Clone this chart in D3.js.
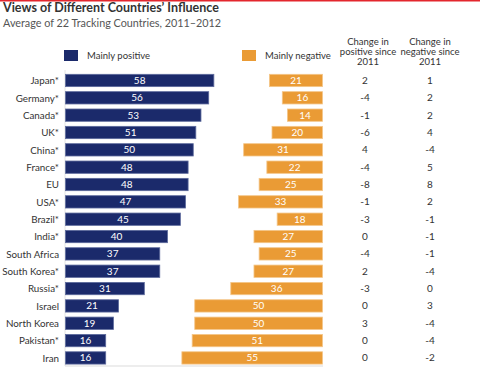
<!DOCTYPE html>
<html>
<head>
<meta charset="utf-8">
<script src="https://cdn.jsdelivr.net/npm/d3@7"></script>
<style>
  body { margin: 0; background: #fff; }
  svg { display: block; font-family: Lato, "Open Sans", sans-serif; }
</style>
</head>
<body>
<svg class="chart" width="480" height="372"></svg>
<script>
var countries = ['Japan*', 'Germany*', 'Canada*', 'UK*', 'China*', 'France*', 'EU', 'USA*', 'Brazil*',
  'India*', 'South Africa', 'South Korea*', 'Russia*', 'Israel', 'North Korea', 'Pakistan*', 'Iran'];
var positive = [58, 56, 53, 51, 50, 48, 48, 47, 45, 40, 37, 37, 31, 21, 19, 16, 16];
var negative = [21, 16, 14, 20, 31, 22, 25, 33, 18, 27, 25, 27, 36, 50, 50, 51, 55];
var changePos = [2, -4, -1, -6, 4, -4, -8, -1, -3, 0, -4, 2, -3, 0, 3, 0, 0];
var changeNeg = [1, 2, 2, 4, -4, 5, 8, 2, -1, -1, -1, -4, 0, 3, -4, -4, -2];

var navy = '#1b2a6b', orange = '#ea9b35';

var svg = d3.select('.chart');

// red rule at the very top
svg.append('rect').attr('x', 0).attr('y', 0).attr('width', 480).attr('height', 1.5).attr('fill', '#e3262d');

svg.append('text').attr('x', 3).attr('y', 12)
  .attr('font-size', 12.5).attr('font-weight', 'bold').attr('fill', '#333')
  .text('Views of Different Countries\u2019 Influence');
svg.append('text').attr('x', 3).attr('y', 27)
  .attr('font-size', 10.8).attr('fill', '#555')
  .text('Average of 22 Tracking Countries, 2011\u20132012');

// scales
var xPos = d3.scaleLinear().domain([0, 60]).range([65, 65 + 60 * 2.575]);
var xNeg = d3.scaleLinear().domain([0, 60]).range([323, 323 - 60 * 2.575]);
var y = d3.scaleBand().domain(countries).range([71.8, 366.6]).paddingInner(0.29).paddingOuter(0.145);

// legend
var legend = [
  {label: 'Mainly positive', color: navy, x: 64},
  {label: 'Mainly negative', color: orange, x: 242}
];
var lg = svg.selectAll('g.legend').data(legend).enter().append('g').attr('class', 'legend');
lg.append('rect').attr('x', function(d) { return d.x; }).attr('y', 50)
  .attr('width', 14).attr('height', 11).attr('fill', function(d) { return d.color; });
lg.append('text').attr('x', function(d) { return d.x + 23; }).attr('y', 59)
  .attr('font-size', 9.5).attr('fill', '#333').text(function(d) { return d.label; });

// column headers
var headers = [
  {x: 368, lines: ['Change in', 'positive since', '2011']},
  {x: 430, lines: ['Change in', 'negative since', '2011']}
];
headers.forEach(function(h) {
  var t = svg.append('text').attr('text-anchor', 'middle').attr('font-size', 9.5).attr('fill', '#333');
  h.lines.forEach(function(l, i) {
    t.append('tspan').attr('x', h.x).attr('y', 45 + i * 10).text(l);
  });
});

// axis lines
svg.append('line').attr('x1', 65).attr('x2', 65).attr('y1', 70).attr('y2', 366)
  .attr('stroke', '#e4e4e4').attr('stroke-width', 1);
svg.append('line').attr('x1', 65).attr('x2', 323).attr('y1', 366).attr('y2', 366)
  .attr('stroke', '#dcdcdc').attr('stroke-width', 1.2);

var rows = svg.selectAll('g.row').data(countries).enter().append('g').attr('class', 'row');

// country labels
rows.append('text').attr('x', 59).attr('y', function(d) { return y(d) + y.bandwidth() / 2 + 3.8; })
  .attr('text-anchor', 'end').attr('font-size', 9.8).attr('fill', '#333').text(function(d) { return d; });

// positive bars
rows.append('rect')
  .attr('x', xPos(0) + 0.5)
  .attr('y', function(d) { return y(d); })
  .attr('width', function(d, i) { return xPos(positive[i]) - xPos(0) - 1; })
  .attr('height', y.bandwidth())
  .attr('fill', navy).attr('stroke', '#5d6a9c').attr('stroke-width', 0.8);
rows.append('text')
  .attr('x', function(d, i) { return (xPos(0) + xPos(positive[i])) / 2; })
  .attr('y', function(d) { return y(d) + y.bandwidth() / 2 + 3.5; })
  .attr('text-anchor', 'middle').attr('font-size', 10).attr('fill', '#fff')
  .text(function(d, i) { return positive[i]; });

// negative bars
rows.append('rect')
  .attr('x', function(d, i) { return xNeg(negative[i]) + 0.5; })
  .attr('y', function(d) { return y(d); })
  .attr('width', function(d, i) { return xNeg(0) - xNeg(negative[i]) - 1; })
  .attr('height', y.bandwidth())
  .attr('fill', orange).attr('stroke', '#f4c689').attr('stroke-width', 0.8);
rows.append('text')
  .attr('x', function(d, i) { return (xNeg(0) + xNeg(negative[i])) / 2; })
  .attr('y', function(d) { return y(d) + y.bandwidth() / 2 + 3.5; })
  .attr('text-anchor', 'middle').attr('font-size', 10).attr('fill', '#fff')
  .text(function(d, i) { return negative[i]; });

// change columns
rows.append('text').attr('x', 365).attr('y', function(d) { return y(d) + y.bandwidth() / 2 + 3.5; })
  .attr('text-anchor', 'middle').attr('font-size', 10).attr('fill', '#333')
  .text(function(d, i) { return changePos[i]; });
rows.append('text').attr('x', 430).attr('y', function(d) { return y(d) + y.bandwidth() / 2 + 3.5; })
  .attr('text-anchor', 'middle').attr('font-size', 10).attr('fill', '#333')
  .text(function(d, i) { return changeNeg[i]; });
</script>
</body>
</html>
